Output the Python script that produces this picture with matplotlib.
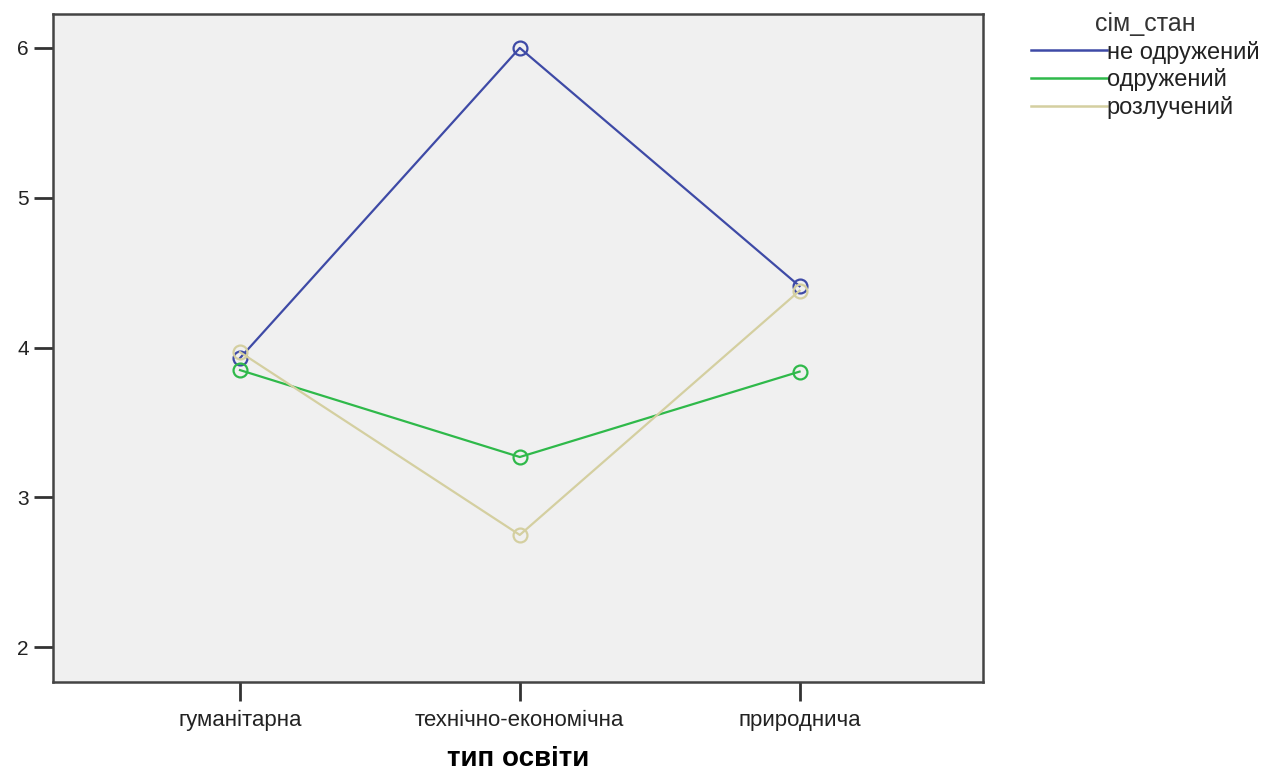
import numpy as np
import matplotlib.pyplot as plt
from matplotlib.lines import Line2D

plt.rcParams['font.family'] = ['Liberation Sans', 'DejaVu Sans']

categories = ['гуманітарна', 'технічно-економічна', 'природнича']
groups = ['не одружений', 'одружений', 'розлучений']
ne_odruzh = [3.93, 6.00, 4.41]
odruzh = [3.85, 3.27, 3.84]
rozluch = [3.97, 2.75, 4.38]
colors = ['#3e4aa6', '#2fb94a', '#d4cfa0']

fig = plt.figure(figsize=(12.64, 7.73), dpi=100)
ax = fig.add_axes([0.042, 0.118, 0.736, 0.864])
ax.set_facecolor('#f0f0f0')

x = np.arange(len(categories))
for vals, c in zip([ne_odruzh, odruzh, rozluch], colors):
    ax.plot(x, vals, color=c, lw=1.6, marker='o', ms=10, mfc='none', mew=1.6)

ax.set_xlim(-0.668, 2.657)
ax.set_ylim(1.77, 6.227)
ax.set_yticks([2, 3, 4, 5, 6])
ax.set_xticks(x)
ax.set_xticklabels(categories)
ax.tick_params(axis='both', length=14, width=2, color='#333333', labelsize=15, labelcolor='#222222')
ax.tick_params(axis='x', labelsize=16, pad=6)
for s in ax.spines.values():
    s.set_linewidth(1.8)
    s.set_color('#444444')
ax.set_xlabel('тип освіти', fontsize=20, fontweight='bold', labelpad=11)

handles = [Line2D([], [], color=c, lw=1.8) for c in colors]
leg = fig.legend(handles, groups, title='сім_стан', loc='upper left',
                 bbox_to_anchor=(0.799, 1.012), frameon=False, fontsize=17,
                 title_fontsize=18, handlelength=3.2, handletextpad=0.0,
                 labelspacing=0.2)
leg.get_title().set_color('#333333')
for t in leg.get_texts():
    t.set_color('#222222')

fig.savefig('out.png', dpi=100)
